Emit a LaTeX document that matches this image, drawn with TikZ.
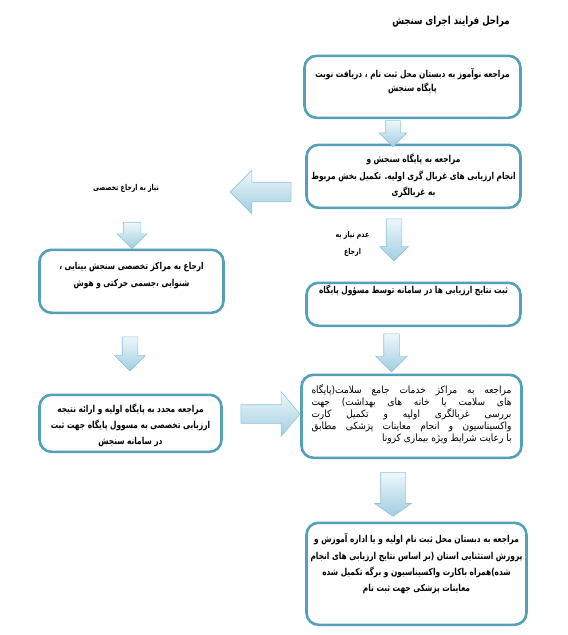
\documentclass[tikz,border=0pt]{standalone}
\usepackage{fontspec}
\usetikzlibrary{shapes.arrows}
\newfontfamily\fafont[Script=Arabic,FakeStretch=0.9]{DejaVu Sans}
\newfontfamily\fabold[Script=Arabic,FakeStretch=0.78]{DejaVu Sans}
\TeXXeTstate=1
\newcommand{\rline}[1]{\beginR#1\endR}
\newcommand{\bline}[1]{\mbox{\beginR#1\endR}}
\newcommand{\btext}[4]{\parbox[c][#1][t]{#2}{\centering\fontsize{9.5}{#3}\selectfont #4}}
\definecolor{boxedge}{RGB}{84,160,184}
\definecolor{arrtop}{RGB}{238,247,251}
\definecolor{arrbot}{RGB}{160,206,225}
\definecolor{arredge}{RGB}{148,195,214}

\begin{document}
\begin{tikzpicture}[x=1pt,y=-1pt,
    stepbox/.style={draw=boxedge, line width=2.6pt, rounded corners=12pt, fill=white,
      anchor=north, inner xsep=4pt, font=\fabold\bfseries},
    blockarr/.style={single arrow, draw=arredge, line width=0.6pt, top color=arrtop,
      bottom color=arrbot, single arrow head indent=0pt},
    downarr/.style={blockarr, shape border rotate=270},
    lbl/.style={font=\fabold\bfseries\fontsize{8}{17}\selectfont, align=center}]
  \useasboundingbox (0,0) rectangle (568,635);

  % Title
  \node[font=\fabold\bfseries\fontsize{11}{13}\selectfont] (title) at (451,22)
    {\rline{مراحل فرایند اجرای سنجش}};

  % Right column boxes
  \node[stepbox, inner ysep=12.5pt] (start) at (412.5,54.5)
    {\btext{37pt}{208pt}{14}{\bline{مراجعه نوآموز به  دبستان محل ثبت نام ، دریافت نوبت}\\
      \bline{پایگاه سنجش}}};
  \node[stepbox, inner ysep=9.5pt] (screen) at (413.5,143.5)
    {\btext{44pt}{206pt}{16.5}{\bline{مراجعه به  پایگاه سنجش و}\\
      \bline{انجام ارزیابی های غربال گری اولیه. تکمیل بخش مربوط}\\
      \bline{به غربالگری}}};
  \node[stepbox, inner ysep=2pt] (record) at (413.5,281.5)
    {\btext{39pt}{206pt}{16}{\bline{ثبت نتایج ارزیابی ها در سامانه توسط مسؤول پایگاه}}};
  \node[stepbox, inner ysep=10pt, inner xsep=10pt, font=\fafont] (health) at (411.5,373.5)
    {\parbox[c][63pt][t]{200pt}{\fontsize{10}{12}\selectfont\parfillskip=0pt
      \rline{مراجعه به مراکز خدمات جامع سلامت(پایگاه}\break
      \rline{های سلامت یا خانه های بهداشت) جهت}\break
      \rline{بررسی غربالگری اولیه و تکمیل کارت}\break
      \rline{واکسیناسیون و انجام معاینات پزشکی مطابق}\break
      \hspace*{\fill}\rline{با رعایت شرایط ویژه بیماری کرونا}}};
  \node[stepbox, inner ysep=11pt] (school) at (416.5,521.5)
    {\btext{80pt}{212pt}{16.3}{\bline{مراجعه به دبستان محل ثبت نام اولیه و یا اداره آموزش و}\\
      \bline{پرورش استثنایی استان (بر اساس نتایج ارزیابی های انجام}\\
      \bline{شده)همراه  باکارت واکسیناسیون و برگه تکمیل شده}\\
      \bline{معاینات پزشکی جهت ثبت نام}}};

  % Left column boxes
  \node[stepbox, inner ysep=12.5pt] (refer) at (131.5,248.5)
    {\btext{38pt}{176pt}{17}{\bline{ارجاع به مراکز تخصصی سنجش بینایی ،}\\
      \bline{شنوایی ،جسمی حرکتی و هوش}}};
  \node[stepbox, inner ysep=9pt] (back) at (130.5,393.5)
    {\btext{39pt}{174pt}{16}{\bline{مراجعه مجدد به پایگاه اولیه و ارائه نتیجه}\\
      \bline{ارزیابی تخصصی به  مسوول پایگاه جهت ثبت}\\
      \bline{در سامانه سنجش}}};

  % Labels
  \node[lbl] (need) at (126,188) {\rline{نیاز به ارجاع تخصصی}};
  \node[lbl] (noneed) at (352.5,243.5) {\rline{عدم نیاز به}\\\rline{ارجاع}};

  % Block arrows
  \node[downarr, inner sep=7pt, minimum height=26pt, minimum width=27pt,
    single arrow head extend=6.5pt] (arr12) at (393,130) {};
  \node[downarr, inner sep=7.5pt, minimum height=42pt, minimum width=28pt,
    single arrow head extend=6.5pt] (arr23) at (394,236) {};
  \node[blockarr, shape border rotate=180, inner sep=9.5pt, minimum height=61pt,
    minimum width=43pt, single arrow head extend=12pt] (arrleft) at (265.5,192) {};
  \node[downarr, inner sep=8.5pt, minimum height=22pt, minimum width=29pt,
    single arrow head extend=6pt] (arrneed) at (132,231) {};
  \node[downarr, inner sep=7.5pt, minimum height=34pt, minimum width=30pt,
    single arrow head extend=7.5pt] (arrback) at (130,350) {};
  \node[downarr, inner sep=7.5pt, minimum height=38pt, minimum width=31pt,
    single arrow head extend=8pt] (arr34) at (391.5,349) {};
  \node[blockarr, inner sep=9pt, minimum height=59pt, minimum width=44pt,
    single arrow head extend=13pt, single arrow tip angle=100] (arrright) at (266.5,414) {};
  \node[downarr, inner sep=12pt, minimum height=44pt, minimum width=36pt,
    single arrow head extend=6pt, single arrow tip angle=110] (arr45) at (393,490) {};
\end{tikzpicture}
\end{document}
